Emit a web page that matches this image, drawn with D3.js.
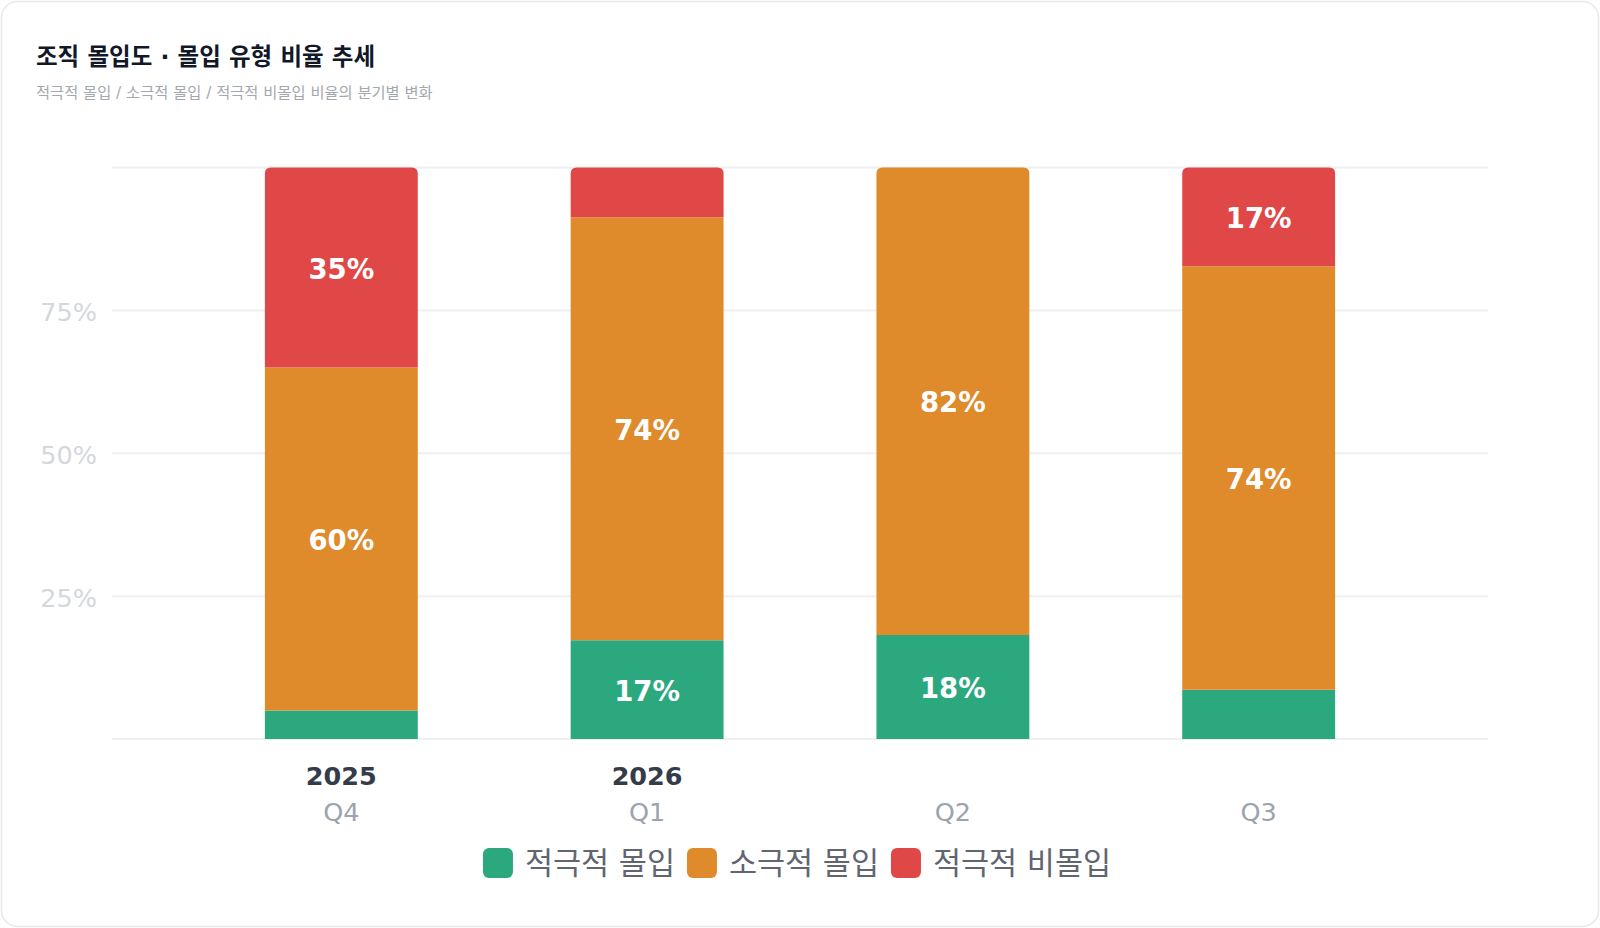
<!DOCTYPE html>
<html>
<head>
<meta charset="utf-8">
<script src="https://cdn.jsdelivr.net/npm/d3@7"></script>
<style>
  html, body { margin: 0; padding: 0; background: #ffffff; }
  svg { display: block; font-family: "DejaVu Sans", "Noto Sans CJK KR", sans-serif; }
</style>
</head>
<body>
<script>
// data
const periods = ["2025 Q4", "2026 Q1", "2026 Q2", "2026 Q3"];
const yearLabels = ["2025", "2026", "", ""];
const quarterLabels = ["Q4", "Q1", "Q2", "Q3"];
const seriesNames = ["적극적 몰입", "소극적 몰입", "적극적 비몰입"];
const activeEngaged = [5, 17.3, 18.2, 8.6];
const passiveEngaged = [60, 74, 81.8, 74.1];
const activeDisengaged = [35, 8.7, 0, 17.3];
const yTicks = [25, 50, 75];
const gridTicks = [0, 25, 50, 75, 100];

const colors = ["#2ca87f", "#df8a2b", "#e04848"];

var width = 1600,
  height = 928;

var plot = { left: 112, right: 1488, top: 167.5, bottom: 739 };

var svg = d3.select("body").append("svg")
  .attr("width", width)
  .attr("height", height);

// card
svg.append("rect")
  .attr("x", 1.5).attr("y", 1.5)
  .attr("width", width - 3).attr("height", height - 3)
  .attr("rx", 16)
  .attr("fill", "#ffffff")
  .attr("stroke", "#e6e8eb")
  .attr("stroke-width", 1.5);

svg.append("text")
  .attr("x", 36).attr("y", 65)
  .attr("font-size", 23.5).attr("font-weight", 700)
  .attr("fill", "#111827")
  .text("조직 몰입도 · 몰입 유형 비율 추세");

svg.append("text")
  .attr("x", 36).attr("y", 98)
  .attr("font-size", 15.3)
  .attr("fill", "#a3a8b0")
  .text("적극적 몰입 / 소극적 몰입 / 적극적 비몰입 비율의 분기별 변화");

var rows = periods.map(function (p, i) {
  return { period: p, s0: activeEngaged[i], s1: passiveEngaged[i], s2: activeDisengaged[i] };
});
var keys = ["s0", "s1", "s2"];
var stacked = d3.stack().keys(keys)(rows);

var x = d3.scaleBand()
  .domain(periods)
  .range([plot.left, plot.right])
  .paddingInner(0.5)
  .paddingOuter(0.5);

var y = d3.scaleLinear().domain([0, 100]).range([plot.bottom, plot.top]);

// grid
svg.append("g").selectAll("line")
  .data(gridTicks)
  .enter().append("line")
  .attr("x1", plot.left).attr("x2", plot.right)
  .attr("y1", function (d) { return y(d); })
  .attr("y2", function (d) { return y(d); })
  .attr("stroke", "#eeeff1")
  .attr("stroke-width", 2);

svg.append("g").selectAll("text")
  .data(yTicks)
  .enter().append("text")
  .attr("x", plot.left - 15)
  .attr("y", function (d) { return y(d) + 2; })
  .attr("text-anchor", "end")
  .attr("dominant-baseline", "central")
  .attr("font-size", 25.5)
  .attr("fill", "#d4d7db")
  .text(function (d) { return d + "%"; });

// which layer is topmost for each period
var topLayer = periods.map(function (p, i) {
  var t = 0;
  keys.forEach(function (k, j) { if (rows[i][k] > 0) t = j; });
  return t;
});

function segPath(x0, w, yTop, yBot, rounded) {
  var r = rounded ? Math.min(6, (yBot - yTop) / 2) : 0;
  return "M" + x0 + "," + yBot +
    "V" + (yTop + r) +
    (r ? "Q" + x0 + "," + yTop + " " + (x0 + r) + "," + yTop : "") +
    "H" + (x0 + w - r) +
    (r ? "Q" + (x0 + w) + "," + yTop + " " + (x0 + w) + "," + (yTop + r) : "") +
    "V" + yBot + "Z";
}

var layers = svg.append("g").selectAll("g")
  .data(stacked)
  .enter().append("g")
  .attr("fill", function (d, i) { return colors[i]; });

layers.selectAll("path")
  .data(function (d, li) { return d.map(function (s, i) { return { s: s, li: li, i: i }; }); })
  .enter().append("path")
  .filter(function (d) { return d.s[1] - d.s[0] > 0; })
  .attr("d", function (d) {
    return segPath(x(periods[d.i]), x.bandwidth(), y(d.s[1]), y(d.s[0]), topLayer[d.i] === d.li);
  });

// value labels
layers.selectAll("text")
  .data(function (d) { return d.filter(function (s) { return s[1] - s[0] >= 10; }); })
  .enter().append("text")
  .attr("x", function (d) { return x(d.data.period) + x.bandwidth() / 2; })
  .attr("y", function (d) { return y((d[0] + d[1]) / 2) + 1; })
  .attr("text-anchor", "middle")
  .attr("dominant-baseline", "central")
  .attr("font-size", 27.5).attr("font-weight", 700)
  .attr("fill", "#ffffff")
  .text(function (d) { return Math.round(d[1] - d[0]) + "%"; });

// x labels
var xl = svg.append("g").selectAll("g")
  .data(periods)
  .enter().append("g")
  .attr("transform", function (d) { return "translate(" + (x(d) + x.bandwidth() / 2) + ",0)"; });

xl.append("text")
  .attr("y", 785)
  .attr("text-anchor", "middle")
  .attr("font-size", 25.5).attr("font-weight", 700)
  .attr("fill", "#343c4a")
  .text(function (d, i) { return yearLabels[i]; });

xl.append("text")
  .attr("y", 821)
  .attr("text-anchor", "middle")
  .attr("font-size", 25.5)
  .attr("fill", "#9ca3af")
  .text(function (d, i) { return quarterLabels[i]; });

// legend
var legend = svg.append("g");
var lx = 0;
seriesNames.forEach(function (name, i) {
  var item = legend.append("g").attr("transform", "translate(" + lx + ",0)");
  item.append("rect")
    .attr("x", 0).attr("y", -15)
    .attr("width", 30).attr("height", 30)
    .attr("rx", 6)
    .attr("fill", colors[i]);
  var t = item.append("text")
    .attr("x", 42).attr("y", 0)
    .attr("dominant-baseline", "central")
    .attr("font-size", 30.5)
    .attr("fill", "#60656f")
    .text(name);
  lx += 42 + t.node().getComputedTextLength() + 12;
});
var lw = lx - 12;
legend.attr("transform", "translate(" + ((plot.left + plot.right) / 2 - lw / 2 - 3) + ",863)");
</script>
</body>
</html>
